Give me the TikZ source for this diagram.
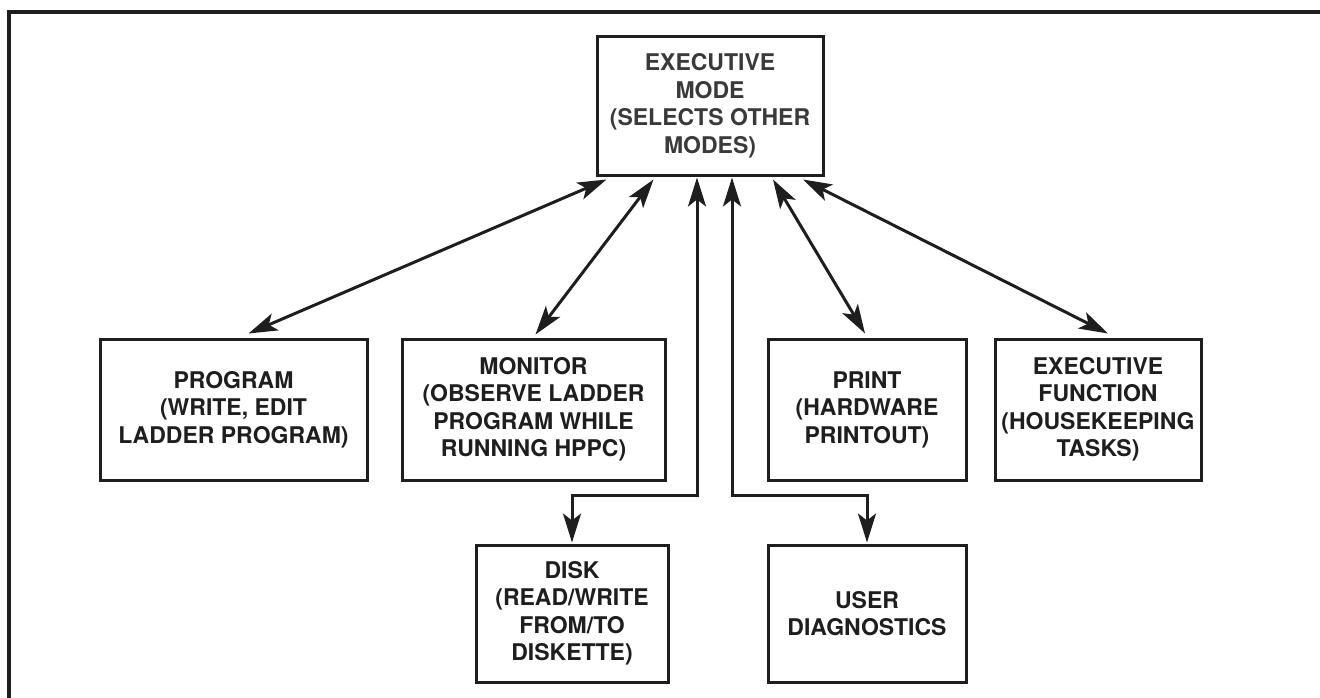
\documentclass[tikz,border=0pt]{standalone}
\usepackage{fontspec}
\setmainfont{TeX Gyre Heros}
\usetikzlibrary{arrows.meta}
\definecolor{ink}{HTML}{1E1E1E}
\definecolor{softink}{HTML}{3A3A3A}
\tikzset{
  box/.style={draw=ink, line width=3pt, inner sep=0pt, align=center,
    text=ink, font=\fontsize{23pt}{27.5pt}\selectfont\bfseries},
  tip/.tip={Stealth[length=29pt,width=18pt,inset=7pt]},
  conn/.style={draw=ink, line width=3pt, tip-tip},
}
\begin{document}
\begin{tikzpicture}[x=1pt,y=-1pt]
\useasboundingbox (0,0) rectangle (1320,698);
\draw[ink, line width=3.5pt] (9,698) -- (9,12) -- (1320,12);

\node[box, text=softink, minimum width=226pt, minimum height=138pt] (exec) at (710,106)
  {EXECUTIVE\\MODE\\(SELECTS OTHER\\MODES)};

\node[box, minimum width=267pt, minimum height=141pt] (program) at (233.5,409.5)
  {PROGRAM\\(WRITE, EDIT\\LADDER PROGRAM)};
\node[box, minimum width=263pt, minimum height=141pt] (monitor) at (533.5,409.5)
  {MONITOR\\(OBSERVE LADDER\\PROGRAM WHILE\\RUNNING HPPC)};
\node[box, minimum width=198pt, minimum height=141pt] (print) at (867,409.5)
  {PRINT\\(HARDWARE\\PRINTOUT)};
\node[box, minimum width=206pt, minimum height=141pt] (execf) at (1098,409.5)
  {EXECUTIVE\\FUNCTION\\(HOUSEKEEPING\\TASKS)};
\node[box, minimum width=192pt, minimum height=137pt] (disk) at (572,613.5)
  {DISK\\(READ/WRITE\\FROM/TO\\DISKETTE)};
\node[box, minimum width=198pt, minimum height=137pt] (user) at (867,613.5)
  {USER\\DIAGNOSTICS};

\draw[conn] ([xshift=11pt,yshift=-3pt]exec.south west) -- ([xshift=15pt,yshift=4pt]program.north);
\draw[conn] ([xshift=58pt,yshift=-3pt]exec.south west) -- ([xshift=2pt,yshift=3pt]monitor.north);
\draw[conn] ([xshift=63pt,yshift=-3pt]exec.south) -- ([xshift=-2pt,yshift=4pt]print.north);
\draw[conn] ([xshift=93pt,yshift=-3pt]exec.south) -- ([xshift=10pt,yshift=4pt]execf.north);
\draw[conn] ([xshift=-13pt,yshift=-1pt]exec.south) |- ([yshift=48pt]disk.north) -- ([yshift=1pt]disk.north);
\draw[conn] ([xshift=22pt,yshift=-1pt]exec.south) |- ([yshift=48pt]user.north) -- ([yshift=1pt]user.north);
\end{tikzpicture}
\end{document}
